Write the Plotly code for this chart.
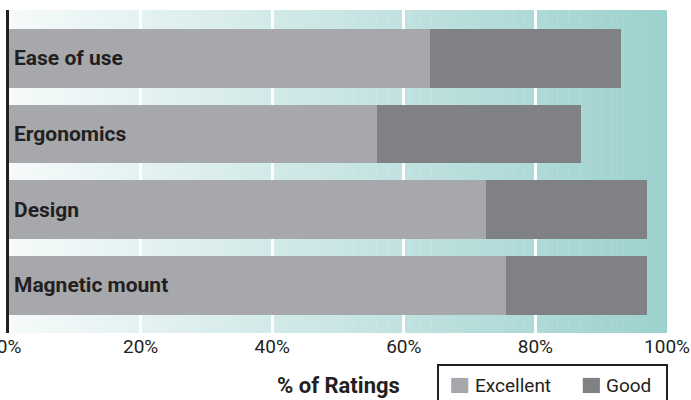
import plotly.graph_objects as go

categories = ["Ease of use", "Ergonomics", "Design", "Magnetic mount"]
excellent = [64, 56, 72.5, 75.5]
good = [29, 31, 24.5, 21.5]
tick_vals = [0, 20, 40, 60, 80, 100]
tick_text = ["0%", "20%", "40%", "60%", "80%", "100%"]
series_names = ["Excellent", "Good"]

FONT = "Roboto, Arial, sans-serif"
C_EXC = "#A7A8AC"
C_GOOD = "#808185"
TXT = "#231F20"

fig = go.Figure()
fig.add_trace(go.Bar(y=categories, x=excellent, name=series_names[0], orientation="h",
                     marker=dict(color=C_EXC, line=dict(width=0))))
fig.add_trace(go.Bar(y=categories, x=good, name=series_names[1], orientation="h",
                     marker=dict(color=C_GOOD, line=dict(width=0))))

# gradient background (white -> teal), below gridlines
c0 = (246, 250, 250)
c1 = (156, 209, 206)
N = 120
shapes = []
for i in range(N):
    t = (i + 0.5) / N
    col = tuple(round(c0[k] + (c1[k] - c0[k]) * t) for k in range(3))
    shapes.append(dict(type="rect", xref="x", yref="paper",
                       x0=100 * i / N, x1=100 * (i + 1) / N + 0.05, y0=0, y1=1,
                       fillcolor="rgb(%d,%d,%d)" % col, line=dict(width=0), layer="below"))

# manual legend (box + swatches + labels), paper coordinates
shapes.append(dict(type="rect", xref="paper", yref="paper", x0=0.652, x1=1.0, y0=-0.099, y1=-0.26,
                   line=dict(color=TXT, width=2), fillcolor="white", layer="above"))
leg_x = [0.672, 0.872]
leg_cols = [C_EXC, C_GOOD]
annotations = []
for name, lx, lc in zip(series_names, leg_x, leg_cols):
    shapes.append(dict(type="rect", xref="paper", yref="paper", x0=lx, x1=lx + 0.026,
                       y0=-0.139, y1=-0.186, fillcolor=lc, line=dict(width=0), layer="above"))
    annotations.append(dict(x=lx + 0.033, y=-0.164, xref="paper", yref="paper", text=name,
                            showarrow=False, xanchor="left", yanchor="middle",
                            font=dict(family=FONT, size=19, color=TXT)))

for c in categories:
    annotations.append(dict(x=0, y=c, xref="x", yref="y", text="<b>%s</b>" % c,
                            showarrow=False, xanchor="left", yanchor="middle", xshift=3,
                            font=dict(family=FONT, size=21, color=TXT)))
annotations.append(dict(x=0.5, y=-0.161, xref="paper", yref="paper", text="<b>% of Ratings</b>",
                        showarrow=False, xanchor="center", yanchor="middle",
                        font=dict(family=FONT, size=22, color=TXT)))

fig.update_layout(
    width=691, height=400,
    margin=dict(l=9, r=24, t=10, b=67, autoexpand=False),
    barmode="stack", bargap=0.227,
    paper_bgcolor="white", plot_bgcolor="rgba(0,0,0,0)",
    font=dict(family=FONT, color=TXT),
    shapes=shapes, annotations=annotations,
    showlegend=False,
    xaxis=dict(range=[0, 100], tickvals=tick_vals, ticktext=tick_text, showgrid=True,
               gridcolor="white", gridwidth=2.5, zeroline=False, showline=False,
               ticks="", ticklabeloverflow="allow",
               tickfont=dict(family=FONT, size=19, color=TXT), fixedrange=True),
    yaxis=dict(categoryorder="array", categoryarray=categories, range=[3.63, -0.64],
               showticklabels=False, showgrid=False, zeroline=False, showline=True,
               linecolor=TXT, linewidth=2.5, ticks="", fixedrange=True),
)

fig.write_html("out.html", config={"displayModeBar": False},
               post_script="document.body.style.margin='0';document.body.style.overflow='hidden';")
